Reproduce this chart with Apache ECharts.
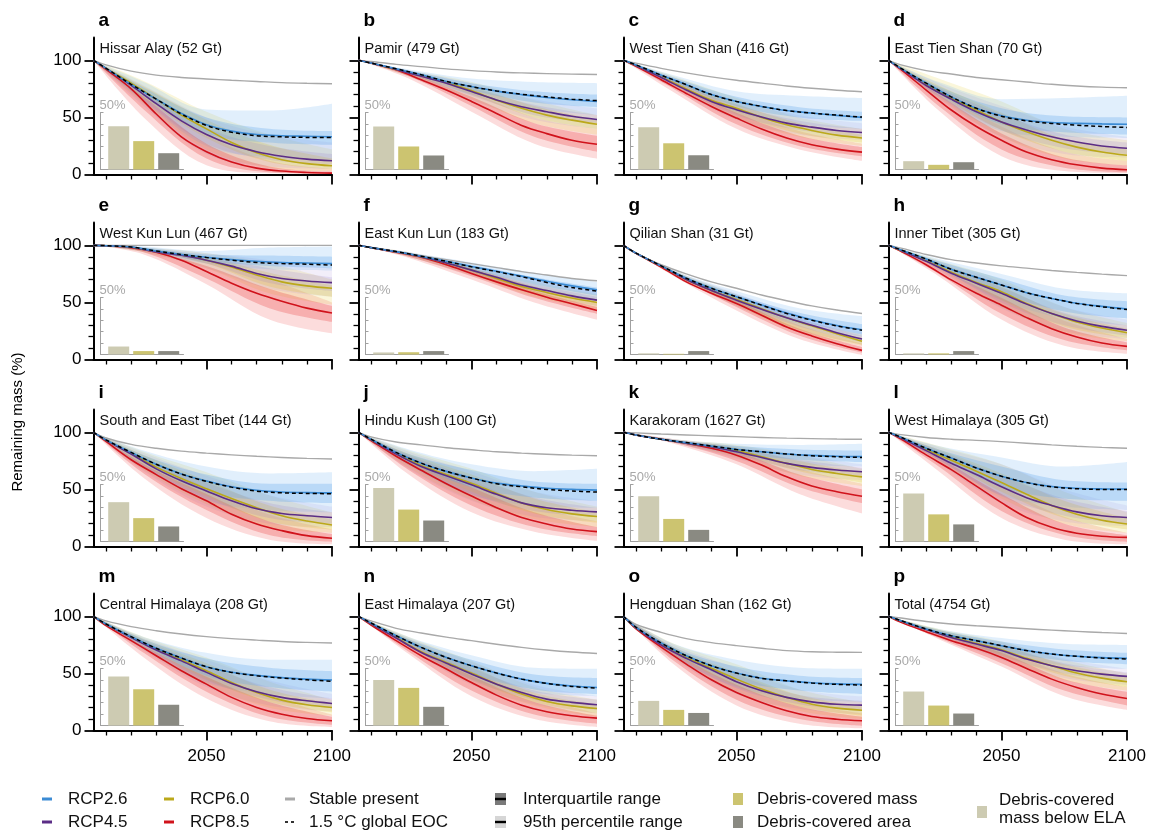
<!DOCTYPE html>
<html><head><meta charset="utf-8">
<script src="https://cdn.jsdelivr.net/npm/echarts@6/dist/echarts.min.js"></script>
<style>html,body{margin:0;padding:0;background:#fff}#chart{width:1151px;height:831px}</style>
</head><body><div id="chart"></div>
<script>
// ---------------- DATA ----------------
const years = [2005,2010,2020,2030,2040,2050,2060,2070,2080,2090,2100];
const bandYears = [2005,2025,2050,2075,2100];
const xTickLabels = [2050, 2100];
const yTickLabels = [0, 50, 100];
const panelLetters = ['a','b','c','d','e','f','g','h','i','j','k','l','m','n','o','p'];
const regionNames = ['Hissar Alay (52 Gt)','Pamir (479 Gt)','West Tien Shan (416 Gt)','East Tien Shan (70 Gt)',
 'West Kun Lun (467 Gt)','East Kun Lun (183 Gt)','Qilian Shan (31 Gt)','Inner Tibet (305 Gt)',
 'South and East Tibet (144 Gt)','Hindu Kush (100 Gt)','Karakoram (1627 Gt)','West Himalaya (305 Gt)',
 'Central Himalaya (208 Gt)','East Himalaya (207 Gt)','Hengduan Shan (162 Gt)','Total (4754 Gt)'];

const stablePresent = [
 [100,96,90.5,87,85,83.7,82.5,81.5,80.5,79.9,79.5],
 [100,99,96.5,94.5,92.5,91,89.8,89,88.4,87.9,87.6],
 [100,97.5,93,89,85.5,82.5,80,77.5,75.5,73.8,72.5],
 [100,96,91,88,85,83,81,79,77.5,76.5,76],
 [100,100,100,100,100,100,100,100,100,100,100],
 [100,98,94.5,91,87.5,84,80.5,77,74,71,69],
 [100,93,83,75,68,62.4,56.5,51.5,47,43.3,40.3],
 [100,97.5,92,87.5,84.5,82,80,78,76.3,74.8,73.5],
 [100,95,89.5,86,83.5,81.8,80.3,79,78,77.2,76.6],
 [100,96,91.5,89,86.5,84.7,83,81.8,80.8,80,79.5],
 [100,99.5,98.5,97.7,96.9,96.2,95.5,94.9,94.5,94.1,93.9],
 [100,98,95.5,94,93,91.9,90.5,89,87.8,86.8,86],
 [100,96,91,87.4,84.5,82.2,80.5,79.2,78,77.2,76.6],
 [100,96,89.5,85.4,81.8,78.7,75.6,72.8,70.5,68.7,67.5],
 [100,93,86,80.5,77,74.3,72,70,69,68.6,68.4],
 [100,98.5,95.5,93.3,91.7,90.4,89.1,87.9,86.8,85.8,85]];
const eoc15 = [
 [100,93,79,66,53,43,37,34,33,32.5,32.5],
 [100,97.6,92.6,87.4,81.5,77,73.2,70.3,68,66,64.7],
 [100,96,87,78.7,70,64,59.6,56,53.8,52,50.3],
 [100,93,80,68,58,51,47,44.7,43.2,42,41.2],
 [100,99.7,98.5,95,92,89.3,87,85,84,83.5,82.7],
 [100,98,94.5,90.5,86,81.2,77,72.5,67.5,63,60],
 [100,93.2,82,71.2,62.4,55,47.6,40.3,34.4,29.4,25.6],
 [100,96,88,79,72,65.3,58.5,53.5,49.1,46.2,43.8],
 [100,93.4,82.4,72,63.5,57,52,48.5,47,46.5,46.2],
 [100,94,82.4,73,65.8,60,55,52.3,50,48.6,47.7],
 [100,97.7,93.9,91,88,85,83,81,79.5,78.6,78],
 [100,95.7,86,77.5,68.8,61.6,56,52.3,50.6,50,50],
 [100,93.3,82.2,72,63.5,55.8,50.9,48,45.9,44.4,43],
 [100,94.2,83,72.8,64,56.7,50.3,45,41.2,38.6,37],
 [100,90.4,76.6,65.5,56.7,50.3,45.6,43.5,41.5,40.4,39.8],
 [100,96.2,88.9,83,78.7,74.3,70,67,65,63.5,62.6]];
const rcp26 = [
 [100,93,79,66,53.5,43.5,38,35,34,33.5,33],
 [100,97.6,92.6,87.4,81.5,77,73,70,67.5,65.5,64],
 [100,96,87,78.7,70,64,59.6,56,53.8,51.8,50],
 [100,93,80,68,58,51.5,47.5,45.5,44.8,44.3,44],
 [100,99.7,98.5,95,92,89.5,87.5,86,85,84.5,84],
 [100,98,94.5,90.5,86,81.5,77.3,73,68.5,64.5,61],
 [100,93.2,82,71.2,62.4,55,47.8,40.7,34.8,29.8,26],
 [100,96,88,79,72,65.3,58.5,53.5,49.3,46.5,44.2],
 [100,93.4,82.4,72,63.5,57.3,52.3,49.3,47.8,47.2,47],
 [100,94,82.4,73,65.8,60,55.5,53,51,50,49.4],
 [100,97.7,93.9,91,88,85,83,81,79.8,79,78.7],
 [100,95.7,86,77.5,68.8,61.6,56,52.5,51,50.5,50.3],
 [100,93.3,82.2,72,63.5,55.8,51,48.3,46.3,45,44.2],
 [100,94.2,83,72.8,64,56.7,50.3,45,41.3,39,37.7],
 [100,90.4,76.6,65.5,56.7,50.3,45.8,43.5,41.8,40.8,40.4],
 [100,96.2,88.9,83,78.7,74.3,70,67,65,63.8,63.2]];
const rcp45 = [
 [100,93,78,62,47,35,26,20,16,13.5,12],
 [100,97.6,92,86,80,72.6,65.3,59.4,55,51,48.2],
 [100,95.5,85,74,64,56.7,50.3,45,41.5,38.6,36.8],
 [100,92.5,78,66,55,46,39,33,28.5,25,23],
 [100,99.7,98.5,94.2,91.3,87,81.8,75.4,71,68.8,67.3],
 [100,98,94.3,90,84.5,78.3,72,65.3,60.4,55.7,52],
 [100,93,82,70,60.5,52,44,36.5,30,23.5,18],
 [100,95.5,86,75.6,66.8,58,48.5,40.3,33.8,29,25.6],
 [100,93,81,68,57.5,48.6,40,33,28.9,26.9,25.4],
 [100,93.5,81,70,62,54,45.7,38.2,34,31.8,30.3],
 [100,97.7,93.9,90.4,87.4,83,78,72.8,69.3,67,65.5],
 [100,95,84,73,63,52.3,42.8,36,30.3,26.9,25.4],
 [100,93,81.5,70.5,61,50.9,41.2,34,29,26,23.7],
 [100,93.5,81,68.4,59,49.4,40.6,33.3,27.5,24.6,22.5],
 [100,90,74.9,63.2,53.2,42.7,34.8,29,25.1,23,22.2],
 [100,96,88.5,81.5,75.7,70,62.6,56.7,52.3,49.4,47.4]];
const rcp60 = [
 [100,93,80,66,52,40,28,19,13,9.5,7.6],
 [100,97.6,92,86.5,80.5,73.5,65,58,52,47.6,44],
 [100,95.5,85.5,75,65,58,50,43.5,38.6,34.5,32],
 [100,93,79,67,56.5,46,37.4,30,24,19.7,16.8],
 [100,99.7,98.5,94.5,91.5,87,81,74,68,64.5,62.4],
 [100,98,94.3,90,84.5,78.3,71,64,58.7,53.8,50],
 [100,93,82,70,60.5,52.6,44.5,36.5,29.5,22.5,16],
 [100,95.5,86.5,76.5,67.5,59.4,49,40.3,32.9,27.6,23.5],
 [100,93,81.5,69.5,59.5,50.5,42,34,27,22.3,18.8],
 [100,93.5,81.5,71,63,55.5,46.5,38.2,32.4,28.6,26.3],
 [100,97.7,93.9,90.5,87.5,84,78.6,72.8,67.5,64,61],
 [100,95.2,85,75.5,66,56,45.7,36,28.3,23,19.7],
 [100,93,82,71.5,62,52.3,42.1,33.3,26.6,22.5,20.2],
 [100,93.5,81.5,69,59.5,50.3,40.6,31.9,25.4,21.6,19.3],
 [100,90,75.5,64,54.5,45,36.3,29,23,19.6,17.8],
 [100,96,88.7,82,76.3,70.8,63.2,56.7,50.3,45.9,42.7]];
const rcp85 = [
 [100,92,75,53,33,20,11,5.6,3,1.8,1.2],
 [100,97.6,91.8,83,74,64,53.5,43,35.8,30,26.5],
 [100,94.7,83,71,59.6,49.4,39.8,31.9,26,22.2,19.6],
 [100,91.8,74,56.5,42,30,19.7,13,8.5,5.6,4.1],
 [100,99.7,98,94,87,77,66.8,58,51,45,40.8],
 [100,98,94,89.5,83,75.4,68,61,54.6,48.8,43],
 [100,93,81,68,58,49,38.8,28.5,20.6,13.8,8],
 [100,94.7,83,69.7,58,47.6,36.7,27,19.7,14.4,11.5],
 [100,92,76,63,50.6,40,28.3,19.7,13.9,9.5,7.2],
 [100,92.8,79,66.8,55,44.2,34,25.4,19.7,15.3,13],
 [100,97.7,93.9,90.4,86,80,71.3,61,53,48,44],
 [100,94,80.3,67.3,52.9,38.4,25.4,16.8,11.6,9,8],
 [100,91.8,78.7,65.5,52.3,40.6,29,20.2,14.3,10.5,8.5],
 [100,92.4,78.7,65.5,53.8,42,31,22.2,16.4,12.9,10.8],
 [100,88.9,73,58.2,44.4,33.3,24.6,17.3,12.3,9.9,8.5],
 [100,94.7,86.5,78.7,72,64,54.4,45,37.7,31.9,28]];

// Uncertainty bands at bandYears: 2.5th, 25th, 75th, 97.5th percentiles
const rcp26Lo95 = [[100,64,25,15,13],[100,88,70,58,52],[100,79,55,44,40],[100,68,38,33,32],[100,95,84,79,78],[100,91,77,62,52],[100,75,50,31,20],[100,80,52,36,30],[100,70,40,32,30],[100,71,45,36,34],[100,91,80,72,70],[100,76,45,35,32],[100,72,42,32,28],[100,74,45,33,30],[100,65,38,28,25],[100,84,67,57,54]];
const rcp26Lo50 = [[100,69,36,28,26],[100,89,74,63,59],[100,81,60,50,47],[100,71,44,37,35],[100,96,86,82,80],[100,92,79,66,56],[100,76,52,34,22],[100,82,58,42,36],[100,74,48,40,38],[100,74,52,43,40],[100,92,82,76,74],[100,79,52,42,40],[100,75,48,38,34],[100,76,50,36,32],[100,68,44,35,32],[100,85,70,61,58]];
const rcp26Hi50 = [[100,76,50,40,38],[100,91,80,73,70],[100,85,68,59,55],[100,77,58,51,50],[100,98,92,91,90],[100,93,83,72,63],[100,77,57,41,31],[100,86,71,56,51],[100,80,63,55,55],[100,81,67,57,55],[100,93,88,85,84],[100,85,70,58,56],[100,80,63,55,52],[100,80,62,49,46],[100,73,56,48,46],[100,88,78,71,68]];
const rcp26Hi95 = [[100,81,57,56,62],[100,92,84,81,80],[100,87,73,69,67],[100,81,66,67,69],[100,99,95,98,99],[100,94,85,76,68],[100,78,60,45,38],[100,88,75,62,58],[100,84,70,64,65],[100,85,72,66,68],[100,94,90,89,90],[100,88,78,70,74],[100,82,68,62,62],[100,82,66,55,54],[100,76,62,55,54],[100,89,81,76,75]];
const rcp45Lo95 = [[100,60,18,7,5],[100,86,65,48,40],[100,76,48,35,30],[100,66,33,18,15],[100,94,80,62,55],[100,90,74,57,47],[100,74,47,26,13],[100,78,45,25,18],[100,66,35,20,17],[100,68,40,26,22],[100,91,77,63,58],[100,73,38,22,18],[100,70,38,22,17],[100,72,40,23,15],[100,63,32,19,14],[100,83,62,46,40]];
const rcp45Lo50 = [[100,65,27,13,9],[100,88,69,52,45],[100,78,52,39,33],[100,69,39,23,18],[100,95,84,67,60],[100,91,76,60,50],[100,75,49,29,15],[100,80,50,30,21],[100,70,42,25,20],[100,72,46,31,26],[100,92,80,67,62],[100,76,44,27,20],[100,73,44,27,20],[100,74,44,27,18],[100,66,37,23,17],[100,84,65,50,43]];
const rcp45Hi50 = [[100,74,41,25,18],[100,90,76,61,52],[100,82,61,47,40],[100,76,53,35,28],[100,97,90,80,72],[100,93,80,66,55],[100,77,55,36,21],[100,84,63,41,30],[100,78,56,38,30],[100,80,61,43,34],[100,93,86,76,69],[100,84,62,42,31],[100,79,57,38,28],[100,79,55,35,27],[100,72,49,31,26],[100,87,74,59,51]];
const rcp45Hi95 = [[100,78,50,35,28],[100,91,80,66,58],[100,85,65,52,45],[100,80,60,42,33],[100,98,93,87,80],[100,94,82,70,60],[100,78,58,39,24],[100,86,68,46,35],[100,82,62,45,35],[100,83,66,48,40],[100,94,88,80,72],[100,87,72,50,36],[100,81,62,44,32],[100,81,60,40,30],[100,75,55,36,30],[100,88,77,63,54]];
const rcp60Lo95 = [[100,62,22,6,3],[100,86,66,45,35],[100,77,49,33,25],[100,67,33,14,8],[100,94,80,58,48],[100,90,74,55,44],[100,74,47,24,12],[100,79,46,24,16],[100,67,37,17,12],[100,69,41,24,17],[100,91,78,62,53],[100,75,42,20,12],[100,71,40,20,13],[100,73,41,22,12],[100,64,34,17,10],[100,83,63,44,35]];
const rcp60Lo50 = [[100,67,32,11,5],[100,88,70,50,40],[100,79,53,36,28],[100,70,39,20,12],[100,95,84,64,55],[100,91,76,58,47],[100,75,49,26,13],[100,81,52,29,19],[100,71,44,22,15],[100,73,48,29,21],[100,92,81,66,56],[100,78,48,25,15],[100,74,45,25,16],[100,75,45,25,15],[100,67,39,21,13],[100,85,66,48,38]];
const rcp60Hi50 = [[100,77,48,26,14],[100,90,77,60,48],[100,83,62,45,35],[100,78,54,31,22],[100,97,90,76,65],[100,93,80,64,53],[100,77,55,32,19],[100,85,64,40,27],[100,80,58,36,24],[100,81,63,42,30],[100,93,87,75,65],[100,85,64,40,25],[100,80,59,36,24],[100,80,56,33,23],[100,73,51,31,21],[100,88,75,58,47]];
const rcp60Hi95 = [[100,82,55,35,22],[100,91,81,65,52],[100,86,67,50,40],[100,84,64,40,30],[100,98,93,84,70],[100,94,82,68,57],[100,78,57,35,22],[100,87,70,46,32],[100,83,65,45,30],[100,84,68,48,35],[100,94,89,80,68],[100,88,72,48,30],[100,82,64,43,27],[100,82,61,38,27],[100,76,58,36,25],[100,89,78,62,50]];
const rcp85Lo95 = [[100,50,8,1,0.3],[100,84,55,27,14],[100,72,40,22,12],[100,56,16,3,1],[100,92,66,35,23],[100,89,70,50,35],[100,73,43,18,4],[100,73,35,12,5],[100,60,25,6,2],[100,63,30,13,5],[100,90,72,46,29],[100,66,25,6,2],[100,64,28,8,3],[100,67,30,10,3],[100,58,22,6,2],[100,80,56,30,18]];
const rcp85Lo50 = [[100,57,14,2,0.5],[100,86,60,33,20],[100,75,44,25,16],[100,60,22,6,2],[100,94,71,45,33],[100,90,73,54,40],[100,74,46,21,6],[100,75,40,17,8],[100,64,32,10,4],[100,67,36,17,9],[100,91,75,52,38],[100,70,31,10,4],[100,68,34,12,5],[100,69,35,14,6],[100,61,27,10,4],[100,81,59,35,22]];
const rcp85Hi50 = [[100,68,27,7,2.5],[100,89,68,45,34],[100,81,54,34,24],[100,70,36,15,8],[100,96,82,62,47],[100,92,78,60,46],[100,75,52,27,11],[100,80,54,28,15],[100,72,46,22,11],[100,76,52,30,17],[100,93,83,63,50],[100,78,46,20,10],[100,74,47,25,12],[100,75,48,25,13],[100,69,40,21,12],[100,85,68,45,34]];
const rcp85Hi95 = [[100,73,35,12,5],[100,90,72,50,40],[100,83,58,38,27],[100,74,42,20,12],[100,97,87,70,50],[100,93,80,64,50],[100,76,54,30,14],[100,82,58,34,18],[100,76,52,28,15],[100,79,58,35,22],[100,94,86,68,55],[100,82,52,26,12],[100,77,52,30,14],[100,77,52,30,15],[100,72,45,25,15],[100,86,71,50,38]];

// Inset bars (% of mass / area)
const belowELA   = [38,37.7,37,7.3,7,1.8,1,1,34.5,47,39.8,42,43,40,21.6,29.8];
const debrisMass = [24.9,20.2,23,4.1,3,2,0.6,1,20.5,28,19.8,23.8,31.8,33,13.7,17.5];
const debrisArea = [14.3,12.3,12.5,6.4,3,3,3,3,13.2,18.4,10.2,15,18.2,16.4,11,10.5];

const legendLabels = ['RCP2.6','RCP4.5','RCP6.0','RCP8.5','Stable present','1.5 °C global EOC',
 'Interquartile range','95th percentile range','Debris-covered mass','Debris-covered area','Debris-covered','mass below ELA'];

// ---------------- LAYOUT / STYLE ----------------
const FONT = '"Liberation Sans", Arial, Helvetica, sans-serif';
const colLeft = [93.5, 358.5, 623.5, 888.5];
const rowTop = [37.5, 222.5, 409.5, 593.5];
const W = 238.5, H = 137;
const C = {rcp26:'#3b8bd4', rcp45:'#5b2d86', rcp60:'#bba81a', rcp85:'#d0121b', stable:'#a9a9a9',
  ela:'#cdcbb2', mass:'#ccc470', area:'#8a8a82'};
const bandDefs = [
  {lo95:rcp85Lo95, hi95:rcp85Hi95, lo50:rcp85Lo50, hi50:rcp85Hi50, c95:'rgba(240,80,80,0.2)', c50:'rgba(230,45,45,0.26)'},
  {lo95:rcp60Lo95, hi95:rcp60Hi95, lo50:rcp60Lo50, hi50:rcp60Hi50, c95:'rgba(232,210,70,0.2)', c50:'rgba(218,192,45,0.24)'},
  {lo95:rcp45Lo95, hi95:rcp45Hi95, lo50:rcp45Lo50, hi50:rcp45Hi50, c95:'rgba(165,135,210,0.14)', c50:'rgba(145,115,200,0.18)'},
  {lo95:rcp26Lo95, hi95:rcp26Hi95, lo50:rcp26Lo50, hi50:rcp26Hi50, c95:'rgba(120,180,240,0.22)', c50:'rgba(95,165,235,0.3)'}
];
const lineDefs = [
  {data:stablePresent, color:C.stable, width:1.4},
  {data:rcp85, color:C.rcp85, width:1.6},
  {data:rcp60, color:C.rcp60, width:1.6},
  {data:rcp45, color:C.rcp45, width:1.6},
  {data:rcp26, color:C.rcp26, width:1.6},
  {data:eoc15, color:'#000', width:1.5, dash:[4,3]}
];
const SMOOTH = 0.35;

const grid = [], xAxis = [], yAxis = [], series = [], graphic = [];
const minorX = [2010,2020,2030,2040,2060,2070,2080,2090];
const minorY = [10,20,30,40,60,70,80,90];

for (let p = 0; p < 16; p++) {
  const r = Math.floor(p / 4), c = p % 4;
  const gMain = grid.length;
  grid.push({left: colLeft[c], top: rowTop[r], width: W, height: H});
  const gIn = grid.length;
  grid.push({left: colLeft[c] + 7, top: rowTop[r] + 75, width: 83, height: 57});

  const xMain = xAxis.length;
  xAxis.push({type:'value', gridIndex:gMain, position:'bottom', min:2005, max:2100, splitLine:{show:false},
    axisLine:{onZero:false, lineStyle:{color:'#000', width:2}},
    axisTick:{customValues:minorX, length:5, lineStyle:{color:'#000', width:1.3}},
    axisLabel:{show:false}});
  xAxis.push({type:'value', gridIndex:gMain, position:'bottom', min:2005, max:2100, splitLine:{show:false},
    axisLine:{show:false, onZero:false},
    axisTick:{customValues:xTickLabels, length:10, lineStyle:{color:'#000', width:1.8}},
    axisLabel:{show: r === 3, customValues:xTickLabels, margin:17, fontSize:17, fontFamily:FONT, color:'#000',
      formatter: v => String(v)}});
  const xIn = xAxis.length;
  xAxis.push({type:'value', gridIndex:gIn, position:'bottom', min:-0.728, max:2.592, splitLine:{show:false},
    axisLine:{onZero:false, lineStyle:{color:'#a0a0a0', width:1}}, axisTick:{show:false}, axisLabel:{show:false}});

  const yMain = yAxis.length;
  yAxis.push({type:'value', gridIndex:gMain, position:'left', min:0, max:120, splitLine:{show:false},
    axisLine:{onZero:false, lineStyle:{color:'#000', width:2}},
    axisTick:{customValues:minorY, length:5, lineStyle:{color:'#000', width:1.3}},
    axisLabel:{show:false}});
  yAxis.push({type:'value', gridIndex:gMain, position:'left', min:0, max:120, splitLine:{show:false},
    axisLine:{show:false, onZero:false},
    axisTick:{customValues:yTickLabels, length:9, lineStyle:{color:'#000', width:1.8}},
    axisLabel:{show: c === 0, customValues:yTickLabels, margin:12, fontSize:17, fontFamily:FONT, color:'#000'}});
  const yIn = yAxis.length;
  yAxis.push({type:'value', gridIndex:gIn, position:'left', min:0, max:50, splitLine:{show:false},
    axisLine:{onZero:false, lineStyle:{color:'#a0a0a0', width:1}},
    axisTick:{customValues:[10,20,30,40,50], inside:true, length:3, lineStyle:{color:'#a0a0a0'}},
    axisLabel:{show:false},
    name:'50%', nameLocation:'end', nameGap:1,
    nameTextStyle:{color:'#a8a8a8', fontSize:13, fontFamily:FONT, align:'left', verticalAlign:'bottom', padding:[0,0,0,-1]}});

  // bands: 95th percentile first, then interquartile. Value put first so that the y dimension is the stacked one.
  ['95','50'].forEach(level => {
    bandDefs.forEach((b, bi) => {
      const lo = b['lo' + level][p], hi = b['hi' + level][p];
      const key = 'p' + p + '_' + bi + '_' + level;
      series.push({type:'line', xAxisIndex:xMain, yAxisIndex:yMain, stack:key, stackStrategy:'all',
        encode:{x:1, y:0},
        smooth:SMOOTH, symbol:'none', silent:true, z:1, lineStyle:{opacity:0, width:0},
        data: bandYears.map((x, i) => [lo[i], x])});
      series.push({type:'line', xAxisIndex:xMain, yAxisIndex:yMain, stack:key, stackStrategy:'all',
        encode:{x:1, y:0},
        smooth:SMOOTH, symbol:'none', silent:true, z:1, lineStyle:{opacity:0, width:0},
        areaStyle:{color: level === '95' ? b.c95 : b.c50, opacity:1},
        data: bandYears.map((x, i) => [hi[i] - lo[i], x])});
    });
  });
  // median lines
  lineDefs.forEach(d => {
    series.push({type:'line', xAxisIndex:xMain, yAxisIndex:yMain, smooth:SMOOTH, symbol:'none', silent:true, z:2,
      lineStyle:{color:d.color, width:d.width, type: d.dash ? d.dash : 'solid'},
      data: years.map((x, i) => [x, d.data[p][i]])});
  });
  // inset bars
  series.push({type:'bar', xAxisIndex:xIn, yAxisIndex:yIn, barWidth:21, silent:true, z:3,
    data:[{value:[0, belowELA[p]], itemStyle:{color:C.ela}},
          {value:[1, debrisMass[p]], itemStyle:{color:C.mass}},
          {value:[2, debrisArea[p]], itemStyle:{color:C.area}}]});

  // panel letter and title
  graphic.push({type:'text', x: colLeft[c] + 5, y: rowTop[r] - 17, silent:true,
    style:{text: panelLetters[p], font:'bold 19px ' + FONT, fill:'#000', align:'left', verticalAlign:'middle', textAlign:'left', textVerticalAlign:'middle'}});
  graphic.push({type:'text', x: colLeft[c] + 6, y: rowTop[r] + 11.5, silent:true,
    style:{text: regionNames[p], font:'14.5px ' + FONT, fill:'#111', align:'left', verticalAlign:'middle', textAlign:'left', textVerticalAlign:'middle'}});
}

// y-axis title
graphic.push({type:'text', x:18, y:422, rotation:Math.PI/2, silent:true,
  style:{text:'Remaining mass (%)', font:'15px ' + FONT, fill:'#000', align:'center', verticalAlign:'middle', textAlign:'center', textVerticalAlign:'middle'}});

// legend
const L1 = 799, L2 = 822;
function lgText(x, y, t) {
  graphic.push({type:'text', x, y, silent:true,
    style:{text:t, font:'17px ' + FONT, fill:'#111', align:'left', verticalAlign:'middle', textAlign:'left', textVerticalAlign:'middle'}});
}
function lgLine(x, y, color, dash) {
  graphic.push({type:'line', silent:true, shape:{x1:x, y1:y, x2:x + 10, y2:y},
    style:{stroke:color, lineWidth: dash ? 1.6 : 3, lineDash: dash || null}});
}
function lgRect(x, y, w, h, color) {
  graphic.push({type:'rect', silent:true, shape:{x, y, width:w, height:h}, style:{fill:color}});
}
lgLine(42, L1, C.rcp26); lgText(68, L1, legendLabels[0]);
lgLine(42, L2, C.rcp45); lgText(68, L2, legendLabels[1]);
lgLine(164, L1, C.rcp60); lgText(190, L1, legendLabels[2]);
lgLine(164, L2, C.rcp85); lgText(190, L2, legendLabels[3]);
lgLine(285, L1, C.stable); lgText(309, L1, legendLabels[4]);
lgLine(285, L2, '#000', [3, 3]); lgText(309, L2, legendLabels[5]);
lgRect(495, L1 - 6, 11, 12, '#7a7a7a'); lgRect(495, L1 - 1.2, 11, 2.4, '#000'); lgText(523, L1, legendLabels[6]);
lgRect(495, L2 - 6, 11, 12, '#d6d6d6'); lgRect(495, L2 - 1.2, 11, 2.4, '#000'); lgText(523, L2, legendLabels[7]);
lgRect(733, L1 - 6, 10, 12, C.mass); lgText(757, L1, legendLabels[8]);
lgRect(733, L2 - 6, 10, 12, C.area); lgText(757, L2, legendLabels[9]);
lgRect(977, 806, 10, 12, C.ela); lgText(999, L1 + 1, legendLabels[10]); lgText(999, L2 - 4, legendLabels[11]);

const chart = echarts.init(document.getElementById('chart'), null, {renderer:'canvas'});
chart.setOption({animation:false, backgroundColor:'#fff', grid, xAxis, yAxis, series, graphic});
</script></body></html>
